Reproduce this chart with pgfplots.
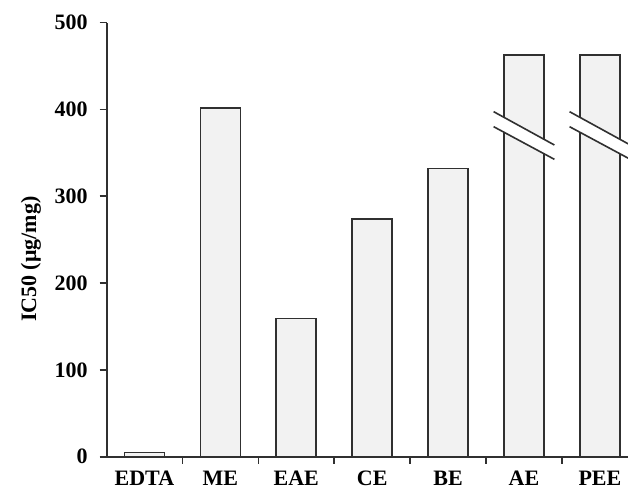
\documentclass[border=0pt]{standalone}
\usepackage{pgfplots}
\pgfplotsset{compat=1.18}
\usepackage{fontspec}
\setmainfont{Liberation Serif}

\definecolor{barfill}{HTML}{F2F2F2}
\definecolor{linegray}{HTML}{303030}

\begin{document}
\begin{tikzpicture}[font=\fontsize{11}{13}\selectfont\bfseries]
\begin{axis}[
  scale only axis,
  width=260.65pt, height=217pt,
  xmin=-0.497, xmax=6.37,
  ymin=0, ymax=500,
  axis x line*=bottom, axis y line*=left,
  axis line style={linegray, line width=0.8pt},
  ytick={0,100,...,500},
  xtick={0,...,6},
  xticklabels={EDTA,ME,EAE,CE,BE,AE,PEE},
  minor xtick={-0.5,0.5,...,5.5},
  tick align=outside,
  major tick length=3.5pt,
  minor tick length=3.5pt,
  tick style={linegray, line width=0.8pt},
  major x tick style={draw=none},
  /pgf/number format/assume math mode=true,
  yticklabel style={xshift=-2.5pt},
  ylabel={IC50 (μg/mg)},
  ylabel style={at={(ticklabel cs:0.455)}},
  ybar, bar width=0.526, bar shift=0pt,
]
\addplot[draw=linegray, fill=barfill, line width=0.8pt]
  coordinates {(0,5) (1,402) (2,159) (3,274) (4,332) (5,463) (6,463)};

% axis breaks on the two off-scale bars
\fill[white] (axis cs:4.60,397.5) -- (axis cs:5.40,359.1) -- (axis cs:5.40,342.6) -- (axis cs:4.60,380.2) -- cycle;
\draw[linegray, line width=0.8pt] (axis cs:4.60,397.5) -- (axis cs:5.40,359.1);
\draw[linegray, line width=0.8pt] (axis cs:4.60,380.2) -- (axis cs:5.40,342.6);
\fill[white] (axis cs:5.60,397.5) -- (axis cs:6.40,359.1) -- (axis cs:6.40,342.6) -- (axis cs:5.60,380.2) -- cycle;
\draw[linegray, line width=0.8pt] (axis cs:5.60,397.5) -- (axis cs:6.40,359.1);
\draw[linegray, line width=0.8pt] (axis cs:5.60,380.2) -- (axis cs:6.40,342.6);

\coordinate (bl) at (rel axis cs:0,0);
\coordinate (tr) at (rel axis cs:1,1);
\end{axis}
\pgfresetboundingbox
\path ([shift={(-53.35pt,-19.15pt)}]bl) rectangle ([shift={(0pt,11.35pt)}]tr);
\end{tikzpicture}
\end{document}
